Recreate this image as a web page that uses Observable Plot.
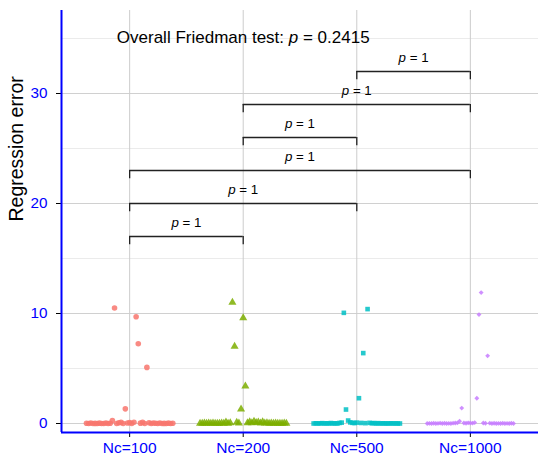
<!DOCTYPE html>
<html>
<head>
<meta charset="utf-8">
<script src="https://cdn.jsdelivr.net/npm/d3@7"></script>
<script src="https://cdn.jsdelivr.net/npm/@observablehq/plot@0.6"></script>
<style>
  html, body { margin: 0; padding: 0; background: #fff; }
  svg { font-family: "Liberation Sans", Arial, sans-serif; }
</style>
</head>
<body>
<div id="chart"></div>
<script>
// ---- data ----
const categories = ["Nc=100", "Nc=200", "Nc=500", "Nc=1000"];
const colors = ["#F8766D", "#7CAE00", "#00BFC4", "#C77CFF"];
const symbols = ["circle", "triangle", "square", "diamond2"];

// observations per group (in drawing order across the jitter band)
const errNc100 = [0.02, 0, 0.05, 0, 0.01, 0, 0.03, 0, 0, 0.04, 0, 0.02, 0.27, 10.5, 0, 0.06, 0.1, 0, 1.33, 0.05, 0.08,
  0, 0.12, 9.7, 7.25, 0.03, 0.1, 0, 5.1, 0.07, 0, 0.05, 0.02, 0, 0.04, 0, 0.01, 0, 0.03, 0, 0.02];
const errNc200 = [0.01, 0, 0.03, 0, 0.02, 0, 0.04, 0, 0.01, 0, 0.03, 0, 0.12, 0, 0.05, 11.0, 7.0, 0.1, 0.03, 1.3, 9.6,
  3.4, 0.06, 0.14, 0.05, 0.2, 0.08, 0.12, 0.03, 0.15, 0.02, 0.06, 0, 0.03, 0, 0.02, 0, 0.01, 0, 0.02, 0];
const errNc500 = [0, 0.02, 0, 0.01, 0.03, 0, 0.02, 0, 0.04, 0, 0.02, 0, 0.05, 0.08, 10.06, 1.27, 0.27, 0.1, 0.06, 0.04, 0.08,
  2.3, 0.05, 6.4, 0.03, 10.4, 0.06, 0.02, 0.04, 0, 0.03, 0, 0.02, 0, 0.01, 0, 0.02, 0, 0.01, 0, 0];
const errNc1000 = [0, 0.01, 0, 0.02, 0, 0.01, 0.03, 0, 0.02, 0, 0.01, 0, 0.03, 0.05, 0.06, 0.2, 1.4, 0.04, 0.02, 0.06, 0.05,
  0.03, 0.08, 2.3, 9.9, 11.9, 0.04, 0.02, 6.15, 0.03, 0, 0.02, 0, 0.01, 0, 0.02, 0, 0.01, 0, 0.02, 0];
const errorSeries = [errNc100, errNc200, errNc500, errNc1000];

// pairwise comparisons and overall test
const pairFrom = ["Nc=100", "Nc=100", "Nc=100", "Nc=200", "Nc=200", "Nc=500"];
const pairTo   = ["Nc=200", "Nc=500", "Nc=1000", "Nc=500", "Nc=1000", "Nc=1000"];
const pairY    = [17, 20, 23, 26, 29, 32];
const pairP    = ["1", "1", "1", "1", "1", "1"];
const overallLabel = "Overall Friedman test: ";
const overallP = "0.2415";
const overallY = 35.1;

const yTicks = [0, 10, 20, 30];
const yMinor = [5, 15, 25, 35];
const yDomain = [-9 / 11, 413 / 11];
const xDomain = [0.4, categories.length + 0.6];

// ---- build tables ----
const pos = c => categories.indexOf(c) + 1;
const spread = 0.76; // jitter band width (in category units)
const points = [];
errorSeries.forEach((vals, g) => {
  const n = vals.length;
  vals.forEach((v, i) => {
    points.push({group: categories[g], x: g + 1 + (i / (n - 1) - 0.5) * spread, value: v});
  });
});
const pairs = pairFrom.map((a, i) => ({x1: pos(a), x2: pos(pairTo[i]), y: pairY[i], p: pairP[i]}));
const ticks = pairs.flatMap(d => [{x: d.x1, y: d.y}, {x: d.x2, y: d.y}]);
const tickLen = 0.75;

const radii = [2.8, 3.0, 2.6, 2.2];

const plot = Plot.plot({
  width: 550,
  height: 463,
  marginLeft: 61,
  marginRight: 12,
  marginTop: 10,
  marginBottom: 31,
  x: {domain: xDomain},
  y: {domain: yDomain},
  style: {fontFamily: "'Liberation Sans', Arial, sans-serif", background: "#fff"},
  marks: [
    Plot.gridY(yMinor, {stroke: "#ebebeb", strokeOpacity: 1}),
    Plot.gridY(yTicks, {stroke: "#d0d0d0", strokeOpacity: 1}),
    Plot.gridX(categories.map(pos), {stroke: "#cccccc", strokeOpacity: 1}),
    ...categories.map((c, g) => Plot.dot(points.filter(d => d.group === c), {
      x: "x", y: "value", symbol: () => symbols[g], fill: colors[g], fillOpacity: 0.85, r: radii[g], stroke: "none"
    })),
    // brackets
    Plot.ruleY(pairs, {x1: "x1", x2: "x2", y: "y", stroke: "#222", strokeWidth: 1.3}),
    Plot.ruleX(ticks, {x: "x", y1: "y", y2: d => d.y - tickLen, stroke: "#222", strokeWidth: 1.3}),
    Plot.text(pairs, {x: d => (d.x1 + d.x2) / 2, y: "y", dy: -14, text: d => "p = " + d.p, fontSize: 13.3, fill: "#000"}),
    Plot.text([overallLabel + "p = " + overallP], {x: 2, y: overallY, fontSize: 17, fill: "#000"}),
    // axes
    Plot.axisY(yTicks, {tickSize: 5, tickPadding: 9, stroke: "#000", fill: "#0000FF", fontSize: 15.3, label: null}),
    Plot.axisX(categories.map(pos), {tickSize: 5, tickPadding: 4, stroke: "#000", fill: "#0000FF", fontSize: 15.5, tickFormat: d => categories[d - 1], label: null}),
    Plot.ruleX([xDomain[0]], {stroke: "#0000FF", strokeWidth: 2}),
    Plot.ruleY([yDomain[0]], {stroke: "#0000FF", strokeWidth: 2}),
    Plot.text(["Regression error"], {frameAnchor: "left", dx: -45, rotate: -90, fontSize: 19.5, fill: "#000"})
  ]
});

// italic "p" in statistical labels
plot.querySelectorAll("text").forEach(el => {
  if (el.querySelector("tspan")) return;
  const t = el.textContent;
  const k = t.lastIndexOf("p = ");
  if (k < 0) return;
  const ns = "http://www.w3.org/2000/svg";
  while (el.firstChild) el.removeChild(el.firstChild);
  if (k > 0) {
    const a = document.createElementNS(ns, "tspan");
    a.textContent = t.slice(0, k);
    el.appendChild(a);
  }
  const p = document.createElementNS(ns, "tspan");
  p.setAttribute("font-style", "italic");
  p.textContent = "p";
  el.appendChild(p);
  const b = document.createElementNS(ns, "tspan");
  b.textContent = t.slice(k + 1);
  el.appendChild(b);
});

document.getElementById("chart").appendChild(plot);
</script>
</body>
</html>
